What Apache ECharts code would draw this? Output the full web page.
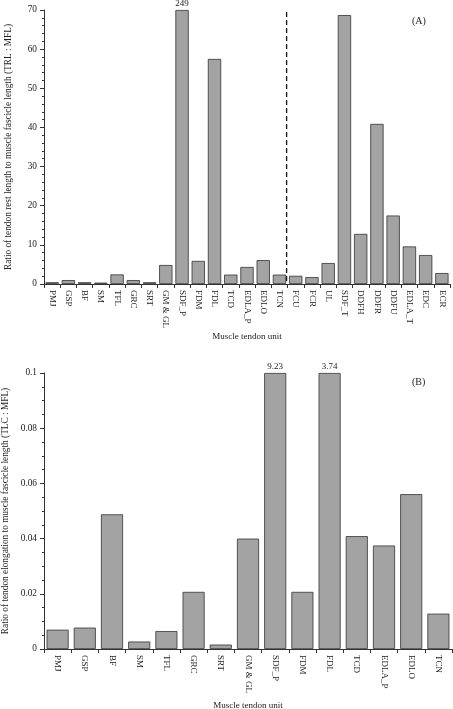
<!DOCTYPE html>
<html><head><meta charset="utf-8">
<script src="https://cdn.jsdelivr.net/npm/echarts@6/dist/echarts.min.js"></script>
<style>html,body{margin:0;padding:0;background:#fff}#c{width:453px;height:709px}</style>
</head><body><div id="c"></div>
<script>
// Panel A
const catsA = ['PMJ','GSP','BF','SM','TFL','GRC','SRT','GM & GL','SDF_P','FDM','FDL','TCD','EDLA_P','EDLO','TCN','FCU','FCR','UL','SDF_T','DDFH','DDFR','DDFU','EDLA_T','EDC','ECR'];
const valsA = [0.45,1.0,0.45,0.35,2.45,1.0,0.45,4.85,249,5.9,57.5,2.4,4.35,6.1,2.4,2.1,1.75,5.35,68.7,12.8,40.9,17.5,9.6,7.4,2.8];
const ticksA = [0,10,20,30,40,50,60,70];
const maxA = 70;
// Panel B
const catsB = ['PMJ','GSP','BF','SM','TFL','GRC','SRT','GM & GL','SDF_P','FDM','FDL','TCD','EDLA_P','EDLO','TCN'];
const valsB = [0.0070,0.00775,0.0488,0.0027,0.0065,0.0207,0.0016,0.0400,9.23,0.0207,3.74,0.0409,0.0375,0.0561,0.0128];
const ticksB = [0,0.02,0.04,0.06,0.08,0.1];
const maxB = 0.1;
const dividerAfter = 'TCN';
const dividerTop = 69.5;

const FONT = '"Liberation Serif","DejaVu Serif",serif';
const chart = echarts.init(document.getElementById('c'), null, {renderer:'canvas'});

function barData(vals, max){
  return vals.map(v => v > max ? {value:max, raw:v, label:{show:true}} : {value:v, raw:v});
}
function yAxis(idx, max, interval, split, name){
  return {
    type:'value', gridIndex:idx, min:0, max:max, interval:interval,
    name:name, nameLocation:'middle', nameGap:31,
    nameTextStyle:{fontFamily:FONT,fontSize:9.3,color:'#222'},
    axisLine:{show:true,lineStyle:{color:'#333',width:1}},
    axisTick:{show:true,length:4,lineStyle:{color:'#333'}},
    minorTick:{show:true,splitNumber:split,length:2,lineStyle:{color:'#333'}},
    splitLine:{show:false},
    axisLabel:{fontFamily:FONT,fontSize:9.3,color:'#222',margin:7,
      formatter:v=>String(+v.toFixed(4))}
  };
}
function xAxis(idx, cats, gap){
  return {
    type:'category', gridIndex:idx, data:cats,
    name:'Muscle tendon unit', nameLocation:'middle', nameGap:gap,
    nameTextStyle:{fontFamily:FONT,fontSize:9,color:'#222'},
    axisLine:{lineStyle:{color:'#333',width:1}},
    axisTick:{show:true,length:4,lineStyle:{color:'#333'}},
    axisLabel:{rotate:-90,fontFamily:FONT,fontSize:9,color:'#222',margin:6,interval:0}
  };
}
const barStyle = {color:'#a3a3a3',borderColor:'#333',borderWidth:0.8};
const labelStyle = {show:false,position:'top',distance:2,fontFamily:FONT,fontSize:9,color:'#222',
  formatter:p=>String(p.data.raw)};

chart.setOption({
  animation:false,
  grid:[
    {left:44,right:3,top:10,height:274,outerBoundsMode:'none',containLabel:false},
    {left:44,right:1,top:373,height:276,outerBoundsMode:'none',containLabel:false}
  ],
  xAxis:[xAxis(0,catsA,44), xAxis(1,catsB,52)],
  yAxis:[
    yAxis(0,maxA,10,5,'Ratio of tendon rest length to muscle fascicle length (TRL : MFL)'),
    yAxis(1,maxB,0.02,4,'Ratio of tendon elongation to muscle fascicle length (TLC : MFL)')
  ],
  series:[
    {type:'bar',xAxisIndex:0,yAxisIndex:0,data:barData(valsA,maxA),barCategoryGap:'18%',itemStyle:barStyle,label:labelStyle},
    {type:'bar',xAxisIndex:1,yAxisIndex:1,data:barData(valsB,maxB),barCategoryGap:'19%',itemStyle:barStyle,label:labelStyle}
  ]
});

const i = catsA.indexOf(dividerAfter);
const x1 = chart.convertToPixel({gridIndex:0},[i,0])[0];
const x2 = chart.convertToPixel({gridIndex:0},[i+1,0])[0];
const xd = (x1+x2)/2 - 1;
const yTop = chart.convertToPixel({gridIndex:0},[i,dividerTop])[1];
const yBot = chart.convertToPixel({gridIndex:0},[i,0])[1];
chart.setOption({
  graphic:[
    {type:'line',shape:{x1:xd,y1:yTop,x2:xd,y2:yBot},style:{stroke:'#111',lineWidth:1.3,lineDash:[5,3]}},
    {type:'text',left:412,top:16,style:{text:'(A)',fontFamily:FONT,fontSize:10,fill:'#222'}},
    {type:'text',left:412,top:377,style:{text:'(B)',fontFamily:FONT,fontSize:10,fill:'#222'}}
  ]
});
</script></body></html>
